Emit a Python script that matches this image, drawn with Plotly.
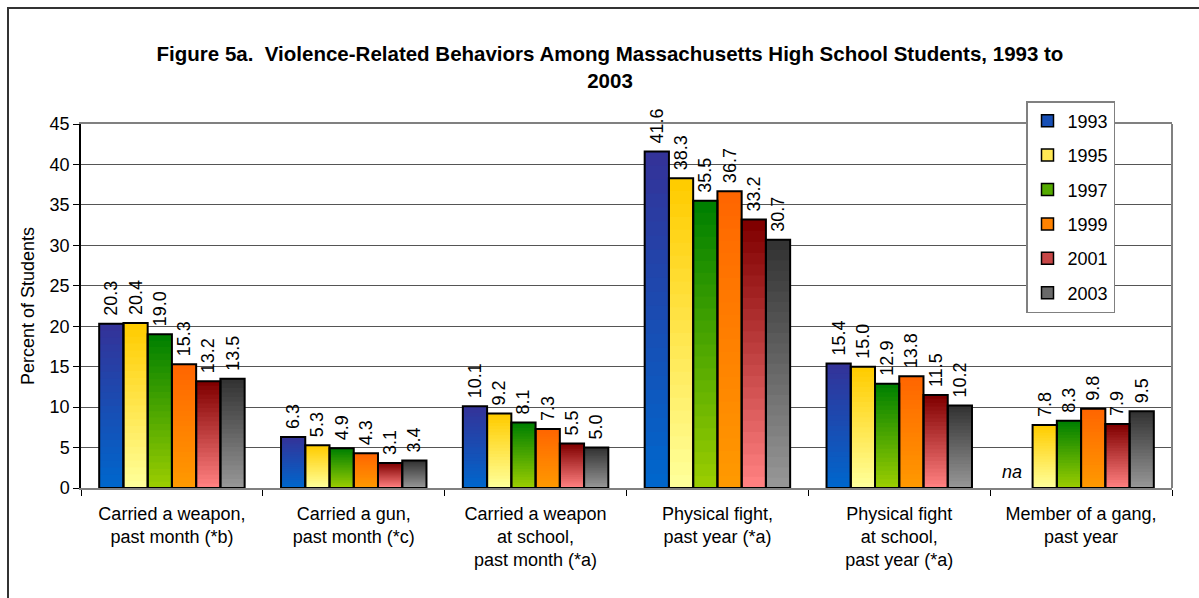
import plotly.graph_objects as go

# Survey categories (x axis) and yearly percentages
categories = [
    "Carried a weapon,<br>past month (*b)",
    "Carried a gun,<br>past month (*c)",
    "Carried a weapon<br>at school,<br>past month (*a)",
    "Physical fight,<br>past year (*a)",
    "Physical fight<br>at school,<br>past year (*a)",
    "Member of a gang,<br>past year",
]
years = ["1993", "1995", "1997", "1999", "2001", "2003"]
pct_1993 = [20.3, 6.3, 10.1, 41.6, 15.4, None]
pct_1995 = [20.4, 5.3, 9.2, 38.3, 15.0, 7.8]
pct_1997 = [19.0, 4.9, 8.1, 35.5, 12.9, 8.3]
pct_1999 = [15.3, 4.3, 7.3, 36.7, 13.8, 9.8]
pct_2001 = [13.2, 3.1, 5.5, 33.2, 11.5, 7.9]
pct_2003 = [13.5, 3.4, 5.0, 30.7, 10.2, 9.5]
series = [pct_1993, pct_1995, pct_1997, pct_1999, pct_2001, pct_2003]

# Gradient endpoints (top colour, bottom colour) per year
grad_top = ["#333399", "#FFCC00", "#008000", "#FF6600", "#800000", "#333333"]
grad_bottom = ["#0066CC", "#FFFF99", "#99CC00", "#FF9900", "#FF8080", "#969696"]

FONT = "Liberation Sans, Arial, sans-serif"
STEPS = 24


def hex_rgb(h):
    h = h.lstrip("#")
    return tuple(int(h[i:i + 2], 16) for i in (0, 2, 4))


def mix(c1, c2, t):
    a, b = hex_rgb(c1), hex_rgb(c2)
    return "rgb({},{},{})".format(*[round(a[i] + (b[i] - a[i]) * t) for i in range(3)])


fig = go.Figure()

# Vertical gradient: nested bars from full height (top colour) down to the
# shortest one (bottom colour), each drawn over the previous one.
for i, (yr, vals) in enumerate(zip(years, series)):
    for k in range(STEPS):
        frac = (STEPS - k) / STEPS
        fig.add_trace(go.Bar(
            x=categories,
            y=[None if v is None else v * frac for v in vals],
            offsetgroup=yr,
            marker=dict(color=mix(grad_top[i], grad_bottom[i], k / (STEPS - 1)),
                        line=dict(width=0)),
            showlegend=False,
            hoverinfo="skip",
        ))

# Outlines and value labels
for i, (yr, vals) in enumerate(zip(years, series)):
    fig.add_trace(go.Bar(
        x=categories,
        y=vals,
        offsetgroup=yr,
        name=yr,
        marker=dict(color="rgba(0,0,0,0)", line=dict(color="black", width=2)),
        texttemplate="\u00a0%{y:.1f}",
        textposition="outside",
        textangle=-90,
        textfont=dict(family=FONT, size=18, color="black"),
        cliponaxis=False,
        constraintext="none",
        showlegend=False,
    ))

# Legend entries
for i, yr in enumerate(years):
    fig.add_trace(go.Bar(
        x=categories,
        y=[None] * len(categories),
        offsetgroup=yr,
        name=yr,
        legendgroup=yr,
        marker=dict(color=mix(grad_top[i], grad_bottom[i], 0.55),
                    line=dict(color="black", width=1.5)),
        showlegend=True,
    ))

fig.update_layout(
    width=1199,
    height=598,
    margin=dict(l=81, r=27, t=124, b=110),
    paper_bgcolor="white",
    plot_bgcolor="white",
    barmode="group",
    bargap=0.2,
    bargroupgap=0,
    font=dict(family=FONT, size=18, color="black"),
    title=dict(
        text="Figure 5a.  Violence-Related Behaviors Among Massachusetts High School Students, 1993 to<br>2003",
        font=dict(family=FONT, size=20.5, color="black", weight="bold"),
        x=610 / 1199, xanchor="center", xref="container",
        y=1 - 61 / 598, yanchor="top", yref="container",
    ),
    legend=dict(
        x=(1026 - 81) / 1091, xanchor="left",
        y=(488 - 101) / 364, yanchor="top",
        bgcolor="white",
        bordercolor="#808080",
        borderwidth=1.5,
        font=dict(family=FONT, size=18, color="black"),
        tracegroupgap=8,
        itemwidth=30,
    ),
    xaxis=dict(
        type="category",
        showline=True, linecolor="#808080", linewidth=2, mirror=True,
        ticks="outside", tickson="boundaries", ticklen=6, tickcolor="black",
        ticklabelstandoff=8,
        tickfont=dict(family=FONT, size=18, color="black"),
        showgrid=False,
    ),
    yaxis=dict(
        range=[0, 45], dtick=5, tick0=0,
        showline=True, linecolor="black", linewidth=1.5,
        ticks="outside", ticklen=6, tickcolor="black",
        tickfont=dict(family=FONT, size=18, color="black"),
        showgrid=True, gridcolor="#555555", gridwidth=1.3,
        zeroline=False,
    ),
    shapes=[
        # outer frame
        dict(type="rect", xref="paper", yref="paper",
             x0=(8 - 81) / 1091, x1=(1400 - 81) / 1091,
             y0=(488 - 800) / 364, y1=(488 - 8) / 364,
             line=dict(color="#333333", width=2), layer="below"),
        # right edge of plot area
        dict(type="line", xref="paper", yref="paper", x0=1, x1=1, y0=0, y1=1,
             line=dict(color="#808080", width=2)),
    ],
    annotations=[
        dict(text="Percent of Students", textangle=-90,
             xref="paper", yref="paper", x=(28 - 81) / 1091, y=0.5,
             xanchor="center", yanchor="middle", showarrow=False,
             font=dict(family=FONT, size=18, color="black")),
        dict(text="<i>na</i>", xref="x", yref="y",
             x=5 - 0.4 + 0.8 / 12, y=0, xanchor="center", yanchor="bottom",
             yshift=4, xshift=-8, showarrow=False,
             font=dict(family=FONT, size=18, color="black")),
    ],
)

fig.write_html("out.html")
